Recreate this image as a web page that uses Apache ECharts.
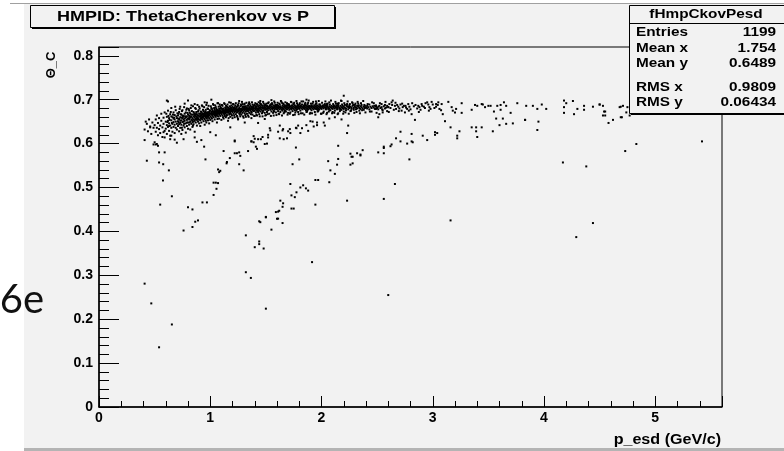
<!DOCTYPE html>
<html><head><meta charset="utf-8">
<script src="https://cdn.jsdelivr.net/npm/echarts/dist/echarts.min.js"></script>
<style>html,body{margin:0;padding:0;background:#fff}#c{width:784px;height:451px}</style>
</head><body><div id="c"></div>
<script>
// ---- data (p in GeV/c, theta_C in rad) ----
const xTickValues = [0, 1, 2, 3, 4, 5];
const yTickValues = [0, 0.1, 0.2, 0.3, 0.4, 0.5, 0.6, 0.7, 0.8];
const titleText = 'HMPID: ThetaCherenkov vs P';
const statsName = 'fHmpCkovPesd';
const statsLabels = ['Entries', 'Mean x', 'Mean y', 'RMS x', 'RMS y'];
const statsValues = ['1199', '1.754', '0.6489', '0.9809', '0.06434'];

const pionBand = [
[0.41,.632],[0.43,.645],[0.44,.628],[0.45,.655],[0.46,.639],[0.47,.622],[0.48,.648],[0.49,.636],
[0.50,.642],[0.51,.627],[0.51,.655],[0.52,.636],[0.52,.664],[0.53,.619],[0.53,.647],[0.54,.633],[0.54,.658],[0.55,.641],[0.55,.624],[0.56,.652],[0.56,.668],[0.57,.637],[0.57,.615],[0.58,.645],[0.58,.659],[0.59,.629],[0.59,.671],[0.60,.650],
[0.60,.634],[0.61,.642],[0.61,.661],[0.61,.622],[0.62,.652],[0.62,.638],[0.62,.675],[0.63,.646],[0.63,.629],[0.63,.658],[0.64,.641],[0.64,.667],[0.64,.618],[0.65,.653],[0.65,.636],[0.65,.681],[0.66,.645],[0.66,.660],[0.66,.627],[0.67,.649],[0.67,.671],[0.67,.638],[0.68,.655],[0.68,.643],[0.68,.665],[0.68,.624],[0.69,.650],[0.69,.636],[0.69,.676],[0.70,.658],[0.70,.645],[0.70,.632],[0.65,.662],[0.63,.640],[0.67,.657],
[0.71,.651],[0.71,.664],[0.71,.640],[0.72,.656],[0.72,.628],[0.72,.672],[0.73,.647],[0.73,.660],[0.73,.636],[0.73,.684],[0.74,.653],[0.74,.666],[0.74,.643],[0.75,.658],[0.75,.649],[0.75,.631],[0.75,.676],[0.76,.655],[0.76,.663],[0.76,.641],[0.77,.652],[0.77,.668],[0.77,.637],[0.77,.691],[0.78,.659],[0.78,.646],[0.78,.671],[0.78,.625],[0.79,.654],[0.79,.662],[0.79,.640],[0.79,.680],[0.80,.657],[0.80,.648],[0.80,.666],[0.80,.634],[0.72,.644],[0.74,.659],[0.76,.650],[0.78,.661],[0.71,.657],[0.73,.652],[0.75,.664],[0.77,.657],[0.79,.648],
[0.81,.655],[0.81,.663],[0.81,.643],[0.81,.676],[0.82,.659],[0.82,.650],[0.82,.668],[0.82,.632],[0.83,.661],[0.83,.654],[0.83,.645],[0.83,.687],[0.84,.658],[0.84,.666],[0.84,.649],[0.84,.638],[0.85,.662],[0.85,.655],[0.85,.672],[0.85,.644],[0.86,.660],[0.86,.652],[0.86,.669],[0.86,.627],[0.87,.663],[0.87,.657],[0.87,.648],[0.87,.679],[0.88,.661],[0.88,.654],[0.88,.667],[0.88,.641],[0.89,.664],[0.89,.658],[0.89,.650],[0.89,.673],[0.90,.662],[0.90,.655],[0.90,.646],[0.90,.684],[0.81,.658],[0.83,.666],[0.85,.650],[0.87,.667],[0.89,.655],[0.82,.662],[0.84,.653],[0.86,.664],[0.88,.658],[0.90,.668],
[0.91,.661],[0.91,.668],[0.91,.653],[0.91,.640],[0.92,.664],[0.92,.657],[0.92,.672],[0.92,.648],[0.93,.662],[0.93,.669],[0.93,.655],[0.93,.685],[0.94,.665],[0.94,.659],[0.94,.651],[0.94,.674],[0.95,.663],[0.95,.670],[0.95,.656],[0.95,.643],[0.96,.666],[0.96,.660],[0.96,.677],[0.96,.652],[0.97,.664],[0.97,.671],[0.97,.657],[0.97,.693],[0.98,.667],[0.98,.661],[0.98,.653],[0.98,.679],[0.99,.665],[0.99,.672],[0.99,.658],[0.99,.646],[1.00,.668],[1.00,.662],[1.00,.675],[1.00,.654],[0.91,.664],[0.92,.660],[0.93,.666],[0.94,.662],[0.95,.667],[0.96,.663],[0.97,.668],[0.98,.664],[0.99,.669],[0.92,.667],[0.94,.668],[0.96,.670],[0.98,.671],[0.93,.659],[0.97,.661],
[1.01,.666],[1.01,.672],[1.01,.659],[1.01,.681],[1.02,.669],[1.02,.663],[1.02,.676],[1.02,.651],[1.03,.667],[1.03,.673],[1.03,.660],[1.03,.688],[1.04,.670],[1.04,.664],[1.04,.678],[1.04,.655],[1.05,.668],[1.05,.674],[1.05,.661],[1.05,.683],[1.06,.671],[1.06,.665],[1.06,.677],[1.06,.648],[1.07,.669],[1.07,.675],[1.07,.662],[1.07,.692],[1.08,.672],[1.08,.666],[1.08,.679],[1.08,.657],[1.09,.670],[1.09,.676],[1.09,.663],[1.09,.685],[1.10,.673],[1.10,.667],[1.10,.680],[1.10,.654],[1.01,.669],[1.02,.666],[1.03,.670],[1.04,.667],[1.05,.671],[1.06,.668],[1.07,.672],[1.08,.669],[1.09,.673],[1.10,.670],[1.02,.673],[1.04,.674],[1.06,.674],[1.08,.675],[1.05,.665],
[1.11,.671],[1.11,.677],[1.11,.664],[1.11,.686],[1.12,.673],[1.12,.668],[1.12,.680],[1.12,.657],[1.13,.670],[1.13,.676],[1.13,.663],[1.13,.690],[1.14,.674],[1.14,.669],[1.14,.681],[1.14,.660],[1.15,.672],[1.15,.678],[1.15,.665],[1.15,.684],[1.16,.675],[1.16,.670],[1.16,.682],[1.16,.652],[1.17,.673],[1.17,.679],[1.17,.666],[1.17,.694],[1.18,.676],[1.18,.671],[1.18,.683],[1.18,.661],[1.19,.674],[1.19,.680],[1.19,.667],[1.19,.687],[1.20,.677],[1.20,.672],[1.20,.684],[1.20,.658],[1.11,.674],[1.12,.671],[1.13,.673],[1.14,.677],[1.15,.675],[1.16,.673],[1.17,.676],[1.18,.674],[1.19,.677],[1.20,.675],[1.12,.676],[1.14,.672],[1.16,.678],[1.18,.679],[1.13,.667],
[1.21,.675],[1.21,.680],[1.21,.668],[1.21,.689],[1.22,.677],[1.22,.672],[1.22,.683],[1.22,.660],[1.23,.674],[1.23,.679],[1.23,.667],[1.23,.692],[1.24,.676],[1.24,.671],[1.24,.684],[1.24,.663],[1.25,.678],[1.25,.673],[1.25,.686],[1.25,.655],[1.26,.675],[1.26,.681],[1.26,.669],[1.26,.697],[1.27,.677],[1.27,.672],[1.27,.685],[1.27,.662],[1.28,.679],[1.28,.674],[1.28,.687],[1.28,.666],[1.29,.676],[1.29,.682],[1.29,.670],[1.29,.690],[1.30,.678],[1.30,.673],[1.30,.684],[1.30,.659],[1.21,.677],[1.23,.677],[1.25,.676],[1.27,.679],[1.29,.678],[1.22,.679],[1.24,.678],[1.26,.678],[1.28,.677],[1.30,.680],
[1.31,.676],[1.31,.682],[1.31,.669],[1.31,.691],[1.32,.678],[1.32,.673],[1.32,.685],[1.32,.661],[1.33,.677],[1.33,.681],[1.33,.668],[1.34,.679],[1.34,.674],[1.34,.687],[1.34,.664],[1.35,.677],[1.35,.683],[1.35,.670],[1.35,.694],[1.36,.680],[1.36,.675],[1.36,.686],[1.37,.678],[1.37,.672],[1.37,.684],[1.37,.658],[1.38,.681],[1.38,.676],[1.38,.689],[1.38,.666],[1.39,.679],[1.39,.674],[1.39,.685],[1.40,.680],[1.40,.675],[1.40,.688],[1.40,.663],[1.31,.679],[1.33,.675],[1.35,.680],[1.37,.681],[1.39,.682],[1.32,.680],[1.36,.678],[1.38,.679],
[1.41,.678],[1.41,.684],[1.41,.671],[1.42,.680],[1.42,.675],[1.42,.690],[1.42,.664],[1.43,.679],[1.43,.684],[1.43,.672],[1.44,.681],[1.44,.676],[1.44,.687],[1.44,.667],[1.45,.679],[1.45,.685],[1.45,.673],[1.45,.697],[1.46,.682],[1.46,.677],[1.46,.688],[1.47,.680],[1.47,.674],[1.47,.686],[1.47,.662],[1.48,.681],[1.48,.676],[1.48,.691],[1.49,.679],[1.49,.684],[1.49,.670],[1.50,.682],[1.50,.677],[1.50,.687],[1.50,.665],[1.41,.681],[1.43,.677],[1.45,.682],[1.47,.683],[1.49,.681],
[1.51,.679],[1.51,.685],[1.51,.672],[1.52,.681],[1.52,.676],[1.52,.692],[1.53,.680],[1.53,.684],[1.53,.668],[1.54,.682],[1.54,.677],[1.54,.688],[1.55,.680],[1.55,.685],[1.55,.673],[1.55,.699],[1.56,.683],[1.56,.678],[1.56,.689],[1.57,.681],[1.57,.675],[1.57,.686],[1.57,.664],[1.58,.682],[1.58,.678],[1.58,.693],[1.59,.680],[1.59,.685],[1.59,.671],[1.60,.683],[1.60,.678],[1.60,.688],[1.52,.683],[1.56,.681],[1.58,.685],
[1.61,.681],[1.61,.686],[1.61,.674],[1.62,.683],[1.62,.678],[1.62,.691],[1.62,.667],[1.63,.680],[1.63,.685],[1.63,.672],[1.64,.682],[1.64,.677],[1.64,.695],[1.65,.681],[1.65,.686],[1.65,.675],[1.66,.684],[1.66,.679],[1.66,.689],[1.66,.669],[1.67,.682],[1.67,.676],[1.67,.687],[1.68,.680],[1.68,.685],[1.68,.673],[1.69,.683],[1.69,.678],[1.69,.692],[1.70,.681],[1.70,.686],[1.70,.670],[1.63,.683],[1.65,.679],[1.67,.684],
[1.71,.682],[1.71,.677],[1.71,.688],[1.72,.680],[1.72,.685],[1.72,.671],[1.73,.683],[1.73,.678],[1.73,.694],[1.74,.681],[1.74,.686],[1.74,.674],[1.75,.684],[1.75,.679],[1.75,.690],[1.76,.682],[1.76,.676],[1.76,.687],[1.76,.666],[1.77,.680],[1.77,.685],[1.78,.683],[1.78,.678],[1.78,.692],[1.79,.681],[1.79,.686],[1.79,.672],[1.80,.684],[1.80,.679],[1.80,.689],[1.73,.680],[1.77,.683],
[1.81,.682],[1.81,.687],[1.81,.675],[1.82,.680],[1.82,.685],[1.82,.696],[1.83,.683],[1.83,.678],[1.83,.669],[1.84,.681],[1.84,.686],[1.85,.684],[1.85,.679],[1.85,.690],[1.86,.682],[1.86,.676],[1.86,.687],[1.87,.680],[1.87,.685],[1.87,.673],[1.88,.683],[1.88,.678],[1.88,.693],[1.89,.681],[1.89,.686],[1.90,.684],[1.90,.679],[1.90,.670],[1.84,.683],[1.88,.685],
[1.91,.682],[1.91,.687],[1.91,.676],[1.92,.680],[1.92,.685],[1.92,.691],[1.93,.683],[1.93,.678],[1.94,.681],[1.94,.686],[1.94,.672],[1.95,.684],[1.95,.679],[1.95,.696],[1.96,.682],[1.96,.687],[1.97,.680],[1.97,.685],[1.97,.674],[1.98,.683],[1.98,.678],[1.98,.689],[1.99,.681],[1.99,.686],[2.00,.684],[2.00,.679],[2.00,.668],[1.96,.678],
[2.01,.682],[2.01,.687],[2.02,.680],[2.02,.685],[2.02,.673],[2.03,.683],[2.03,.690],[2.04,.681],[2.04,.678],[2.05,.684],[2.05,.688],[2.05,.670],[2.06,.682],[2.06,.679],[2.07,.685],[2.07,.680],[2.07,.694],[2.08,.683],[2.08,.676],[2.09,.681],[2.09,.686],[2.10,.684],[2.10,.679],[2.10,.672],[2.04,.686],
[2.11,.682],[2.11,.687],[2.12,.680],[2.12,.685],[2.12,.675],[2.13,.683],[2.13,.691],[2.14,.681],[2.14,.678],[2.15,.684],[2.15,.688],[2.15,.669],[2.16,.682],[2.16,.679],[2.17,.686],[2.17,.680],[2.18,.683],[2.18,.677],[2.18,.697],[2.19,.681],[2.19,.686],[2.20,.684],[2.20,.679],[2.20,.673],[2.14,.686],
[2.21,.682],[2.21,.688],[2.22,.680],[2.22,.676],[2.23,.685],[2.23,.690],[2.24,.683],[2.24,.678],[2.25,.681],[2.25,.687],[2.26,.684],[2.26,.674],[2.27,.682],[2.27,.679],[2.28,.686],[2.28,.692],[2.29,.681],[2.29,.677],[2.30,.684],[2.30,.688],
[2.31,.682],[2.31,.678],[2.32,.686],[2.32,.680],[2.33,.684],[2.33,.691],[2.34,.681],[2.34,.675],[2.35,.685],[2.35,.679],[2.36,.683],[2.36,.688],[2.37,.680],[2.38,.684],[2.38,.677],[2.39,.686],[2.39,.681],[2.40,.683],
[2.41,.680],[2.41,.686],[2.42,.683],[2.43,.678],[2.43,.689],[2.44,.684],[2.45,.681],[2.45,.673],[2.46,.685],[2.47,.682],[2.47,.692],[2.48,.679],[2.49,.684],[2.49,.687],[2.50,.681],
[2.51,.684],[2.51,.678],[2.52,.686],[2.53,.681],[2.54,.690],[2.54,.683],[2.55,.676],[2.56,.685],[2.57,.680],[2.57,.688],[2.58,.682],[2.59,.686],[2.59,.674],[2.60,.683],
[2.62,.681],[2.65,.677],[2.68,.688],[2.70,.680],[2.74,.686],[2.76,.682],[2.78,.690],[2.80,.678],[2.83,.685],[2.86,.680],[2.89,.677],[2.92,.684],[2.93,.681]
];

const pionBandEdge = [
[0.605,.668],[0.615,.649],[0.625,.663],[0.635,.654],[0.645,.672],[0.655,.647],[0.665,.666],[0.675,.659],[0.685,.684],[0.695,.662],[0.705,.669],[0.715,.648],[0.725,.679],[0.735,.667],[0.745,.674],[0.755,.661],[0.765,.683],[0.775,.662],[0.785,.677],[0.795,.670],[0.805,.679],[0.815,.671],[0.825,.681],[0.835,.674],[0.845,.685],[0.855,.667],[0.865,.681],[0.875,.672],[0.885,.688],[0.895,.676],[0.905,.680],[0.915,.673],[0.925,.687],[0.935,.677],[0.945,.683],[0.955,.673],[0.965,.688],[0.975,.680],[0.985,.686],[0.995,.676],[1.005,.685],[1.015,.679],[1.025,.690],[1.035,.681],[1.045,.687],[1.055,.679],[1.065,.692],[1.075,.684],[1.085,.689],[1.095,.681],[0.715,.668],[0.765,.645],[0.815,.648],[0.865,.655],[0.915,.657],[0.965,.648],[1.015,.657],[1.065,.656],[0.745,.636],[0.845,.641],
[1.105,.688],[1.115,.660],[1.125,.692],[1.135,.682],[1.145,.663],[1.155,.689],[1.165,.658],[1.175,.685],[1.185,.693],[1.195,.664],[1.108,.679],[1.142,.686],[1.177,.668],[1.193,.681],
[1.205,.690],[1.215,.664],[1.225,.687],[1.235,.683],[1.245,.660],[1.255,.692],[1.265,.666],[1.275,.689],[1.285,.695],[1.295,.662],[1.212,.681],[1.248,.688],[1.271,.670],[1.292,.684],
[1.305,.689],[1.315,.665],[1.325,.693],[1.335,.686],[1.345,.661],[1.355,.690],[1.365,.667],[1.375,.694],[1.385,.684],[1.395,.663],[1.312,.684],[1.347,.691],[1.371,.671],[1.391,.687],
[1.405,.692],[1.415,.666],[1.425,.688],[1.435,.694],[1.445,.662],[1.455,.690],[1.465,.669],[1.475,.695],[1.485,.686],[1.495,.664],[1.411,.685],[1.448,.692],[1.472,.672],[1.493,.689],
[1.505,.691],[1.515,.667],[1.525,.694],[1.535,.686],[1.545,.663],[1.555,.692],[1.565,.670],[1.575,.696],[1.585,.688],[1.595,.665],[1.512,.686],[1.548,.690],[1.573,.673],[1.592,.684],
[1.605,.693],[1.615,.668],[1.625,.689],[1.635,.697],[1.645,.664],[1.655,.691],[1.665,.671],[1.675,.694],[1.685,.687],[1.695,.666],[1.613,.684],[1.647,.692],[1.672,.674],[1.694,.688],
[1.705,.690],[1.715,.668],[1.725,.695],[1.735,.687],[1.745,.665],[1.755,.693],[1.765,.671],[1.775,.697],[1.785,.688],[1.795,.667],[1.712,.685],[1.748,.691],[1.773,.675],[1.791,.683],
[1.805,.692],[1.815,.669],[1.825,.689],[1.835,.696],[1.845,.666],[1.855,.693],[1.865,.672],[1.875,.690],[1.885,.698],[1.895,.668],[1.813,.684],[1.848,.688],[1.872,.676],[1.894,.685],
[1.905,.691],[1.915,.669],[1.925,.695],[1.935,.687],[1.945,.666],[1.955,.692],[1.965,.673],[1.975,.697],[1.985,.689],[1.995,.668],[1.912,.684],[1.948,.690],[1.972,.676],[1.991,.683],
[2.005,.693],[2.015,.670],[2.025,.688],[2.035,.696],[2.045,.667],[2.055,.691],[2.065,.673],[2.075,.689],[2.085,.698],[2.095,.669],[2.012,.684],[2.048,.690],[2.072,.676],
[2.105,.690],[2.115,.670],[2.125,.695],[2.135,.687],[2.145,.667],[2.155,.692],[2.165,.674],[2.175,.698],[2.185,.689],[2.195,.668],[2.112,.685],[2.148,.691],[2.172,.677],
[2.205,.692],[2.215,.671],[2.225,.687],[2.235,.696],[2.245,.668],[2.255,.690],[2.265,.675],[2.275,.694],[2.285,.688],[2.295,.670],[2.248,.684],
[2.305,.691],[2.315,.672],[2.325,.695],[2.335,.687],[2.345,.669],[2.355,.692],[2.365,.676],[2.375,.697],[2.385,.688],[2.395,.671],
[2.415,.690],[2.435,.673],[2.455,.694],[2.475,.686],[2.495,.670],[2.525,.692],[2.545,.678],[2.575,.695],[2.605,.672],[2.635,.688],[2.665,.693],[2.695,.674],[2.725,.691],[2.755,.686],[2.785,.675],[2.815,.692],[2.845,.688],[2.875,.672],[2.905,.686],[2.935,.692],[2.965,.675],[3.015,.681],[3.045,.688],[3.075,.676]
];

const pionTail = [
[2.49,.679],[2.52,.667],[2.51,.660],[2.55,.671],[2.60,.683],[2.61,.690],[2.63,.694],[2.64,.698],[2.66,.686],[2.67,.679],[2.69,.684],[2.71,.689],[2.72,.675],[2.73,.683],[2.75,.671],[2.77,.679],[2.79,.684],[2.81,.667],[2.84,.654],[2.87,.686],[2.88,.683],[2.90,.690],[2.95,.694],[2.96,.689],[2.97,.683],[2.98,.679],[2.99,.695],[3.00,.689],[3.03,.690],[3.03,.684],[3.05,.694],[3.06,.679],[3.08,.690],[3.09,.667],[3.11,.651],[3.14,.695],[3.17,.683],[3.18,.675],[3.20,.671],[3.21,.679],[3.26,.692],[3.26,.670],[3.35,.677],[3.38,.688],[3.40,.686],[3.44,.690],[3.45,.689],[3.47,.683],[3.50,.686],[3.52,.686],[3.55,.673],[3.57,.657],[3.58,.686],[3.61,.677],[3.61,.688],[3.64,.694],[3.66,.686],[3.70,.670],[3.76,.692],[3.83,.654],[3.84,.686],[3.90,.686],[3.94,.679],[3.98,.689],[4.02,.679],[4.18,.698],[4.20,.692],[4.18,.683],[4.18,.670],[4.26,.697],[4.27,.667],[4.30,.679],[4.36,.686],[4.36,.677],[4.44,.684],[4.50,.689],[4.53,.686],[4.54,.673],[4.55,.664],[4.62,.654],[4.69,.684],[4.71,.686],[4.70,.660],[4.74,.671],[4.75,.683],
[4.53,.664],[4.55,.673],[4.58,.647],[4.69,.660],[4.68,.683],[4.77,.664],[4.50,.689],[4.85,.685],[4.98,.679],[5.12,.690],[5.27,.682],[5.35,.676]
];

const kaonBand = [
[0.76,.402],[0.84,.410],[0.865,.422],[0.89,.425],[0.80,.455],[0.84,.450],[0.93,.466],[0.97,.466],[1.03,.483],[1.056,.497],[1.03,.511],[1.05,.511],[1.07,.510],[1.07,.541],[1.09,.538],[1.08,.535],[1.15,.558],[1.147,.555],[1.176,.567],[1.26,.553],[1.30,.539],[1.12,.583],[1.22,.605],[1.22,.578],[1.24,.578],[1.26,.580],[1.27,.572],[1.34,.583],[1.37,.605],[1.39,.603],[1.41,.593],[1.43,.610],[1.40,.611],[1.42,.588],[1.47,.615],[1.52,.620],[1.51,.600],[1.54,.630],[1.65,.630],[1.66,.610],[1.69,.612],[1.70,.628],[1.72,.624],[1.77,.636],[1.79,.641],[1.81,.624],[1.625,.641],[1.655,.633],[1.61,.627],[1.715,.633],[1.775,.635],[1.825,.635],[1.864,.642],[1.88,.629],[1.93,.639],[1.96,.642],[2.03,.641],[2.12,.660],[2.18,.655],[2.24,.641],[1.535,.635],[1.43,.647],[1.49,.656],[1.31,.648],[1.25,.656],[1.18,.637],[1.39,.617],[1.37,.605],[1.455,.610],[1.52,.614],[1.49,.599],[1.625,.612],[1.22,.607],[1.96,.648],[1.92,.650],[1.90,.651],[2.02,.648],[2.07,.657],[2.23,.624],[0.945,.593],[0.957,.564],[0.92,.608]
];

const protonBand = [
[1.32,.307],[1.365,.294],[1.50,.224],[1.32,.391],[1.40,.364],[1.44,.377],[1.44,.371],[1.48,.361],[1.45,.421],[1.44,.423],[1.50,.432],[1.50,.433],[1.55,.404],[1.60,.429],[1.61,.445],[1.61,.429],[1.59,.444],[1.62,.447],[1.65,.419],[1.65,.456],[1.655,.464],[1.63,.470],[1.73,.452],[1.75,.452],[1.72,.508],[1.73,.482],[1.76,.478],[1.775,.489],[1.81,.500],[1.835,.505],[1.86,.498],[1.88,.493],[1.945,.517],[1.97,.517],[1.945,.461],[2.07,.512],[2.06,.560],[2.08,.539],[2.14,.552],[2.15,.565],[2.12,.531],[1.74,.553],[1.80,.564],[1.77,.591],[2.15,.595],[2.23,.470],
[2.26,.552],[2.28,.555],[2.26,.577],[2.27,.570],[2.28,.570],[2.32,.578],[2.35,.575],[2.35,.573],[2.37,.585],[2.51,.580],[2.56,.578],[2.56,.593],[2.56,.590],[2.62,.594],[2.63,.598],[2.67,.612],[2.71,.605],[2.71,.627],[2.77,.600],[2.81,.605],[2.81,.622],[2.82,.603],[2.79,.564],[2.66,.508],[2.56,.474],[2.91,.618],[2.95,.608],[3.02,.626],[3.04,.624],[3.02,.620],[3.16,.637],[3.22,.618],[3.22,.612],[3.24,.628],[3.35,.637],[3.39,.637],[3.39,.628],[3.40,.615],[3.44,.637],[3.54,.628],[3.60,.642],[3.66,.645],[3.72,.646],[3.63,.657],[3.83,.654],[3.94,.631],[3.95,.650]
];

const lowPoints = [
[0.41,.608],[0.43,.561],[0.42,.650],[0.55,.461],[0.655,.480],[0.575,.516],[0.628,.539],[0.54,.557],[0.577,.553],[0.59,.580],[0.54,.580],[0.49,.598],[0.51,.598],[0.50,.603],[0.53,.595],[0.41,.281],[0.47,.236],[0.655,.188],[0.54,.136],[0.58,.626],[0.59,.614],[0.64,.610],[0.65,.618],[0.68,.609],[0.74,.622],[0.76,.610],[1.00,.626],[0.52,.599],[0.46,.637],[0.70,.602],[0.86,.614],[0.88,.604],[1.05,.619],[1.915,.330],[2.60,.255],[3.16,.425],[4.29,.387],[4.44,.419],[4.17,.557],[4.38,.548],[4.73,.583],[4.83,.599],[5.42,.605],[2.20,.709],[1.865,.700],[1.01,.700],[0.61,.698],[0.62,.696],[0.80,.698],[0.86,.690],[0.95,.694]
];

// ---- chart ----
const FONT = '"Liberation Sans", Arial, Helvetica, sans-serif';
const BG = '#f2f2f2';
const chart = echarts.init(document.getElementById('c'), null, {renderer: 'canvas'});

function xLabel(v) {
  return xTickValues.some(t => Math.abs(t - v) < 1e-6) ? String(Math.round(v)) : '';
}
function yLabel(v) {
  const hit = yTickValues.find(t => Math.abs(t - v) < 1e-6);
  if (hit === undefined) return '';
  return hit === 0 ? '0' : hit.toFixed(1);
}

const pointSeries = (data) => ({
  type: 'scatter', data: data, xAxisIndex: 0, yAxisIndex: 0,
  symbol: 'rect', symbolSize: 2, silent: true,
  itemStyle: {color: '#000', opacity: 1}, z: 3
});

const statsEls = [];
const rowY = [32, 48, 63, 87, 102];
statsLabels.forEach((lab, i) => {
  statsEls.push({type: 'text', x: 636, y: rowY[i], z: 103, scaleX: 1.18,
    style: {text: lab, font: 'bold 13px ' + FONT, fill: '#000', align: 'left', verticalAlign: 'middle', textAlign: 'left', textVerticalAlign: 'middle'}});
  statsEls.push({type: 'text', x: 776, y: rowY[i], z: 103, scaleX: 1.18,
    style: {text: statsValues[i], font: 'bold 13px ' + FONT, fill: '#000', align: 'right', verticalAlign: 'middle', textAlign: 'right', textVerticalAlign: 'middle'}});
});

const option = {
  backgroundColor: '#fff',
  animation: false,
  grid: {left: 99, top: 47, width: 623, height: 360, show: true, borderColor: '#000', borderWidth: 1, backgroundColor: 'transparent', containLabel: false, outerBoundsMode: 'none'},
  xAxis: [
    {type: 'value', min: 0, max: 5.6, interval: 1, position: 'bottom',
     axisLine: {show: true, onZero: false, lineStyle: {color: '#000', width: 1.5}},
     axisTick: {show: true, inside: true, length: 11, lineStyle: {color: '#000', width: 1}},
     axisLabel: {show: true, formatter: xLabel, color: '#000', fontFamily: FONT, fontWeight: 'bold', fontSize: 14, margin: 4},
     splitLine: {show: false}},
    {type: 'value', min: 0, max: 5.6, interval: 0.2, position: 'bottom',
     axisLine: {show: false},
     axisTick: {show: true, inside: true, length: 6, lineStyle: {color: '#000', width: 1}},
     axisLabel: {show: false}, splitLine: {show: false}}
  ],
  yAxis: [
    {type: 'value', min: 0, max: 0.82, interval: 0.1, position: 'left',
     axisLine: {show: true, onZero: false, lineStyle: {color: '#000', width: 1.5}},
     axisTick: {show: true, inside: true, length: 20, lineStyle: {color: '#000', width: 1}},
     axisLabel: {show: true, formatter: yLabel, color: '#000', fontFamily: FONT, fontWeight: 'bold', fontSize: 14, margin: 6},
     splitLine: {show: false}},
    {type: 'value', min: 0, max: 0.82, interval: 0.02, position: 'left',
     axisLine: {show: false},
     axisTick: {show: true, inside: true, length: 10, lineStyle: {color: '#000', width: 1}},
     axisLabel: {show: false}, splitLine: {show: false}}
  ],
  series: [pointSeries(pionBand), pointSeries(pionBandEdge), pointSeries(pionTail), pointSeries(kaonBand), pointSeries(protonBand), pointSeries(lowPoints)],
  graphic: {elements: [
    {type: 'rect', z: -20, silent: true, shape: {x: 24, y: 3, width: 760, height: 445}, style: {fill: BG}},
    {type: 'line', z: -19, silent: true, shape: {x1: 10, y1: 3.5, x2: 784, y2: 3.5}, style: {stroke: '#a0a0a0', lineWidth: 1}},
    {type: 'rect', z: -19, silent: true, shape: {x: 24, y: 448, width: 760, height: 3}, style: {fill: '#b4b4b4'}},
    {type: 'text', z: 50, silent: true, x: 44, y: 300,
     style: {text: '6e', font: '40px Lato, "Open Sans", sans-serif', fill: '#111', align: 'right', verticalAlign: 'middle', textAlign: 'right', textVerticalAlign: 'middle'}},
    // title pave
    {type: 'rect', z: 100, silent: true, shape: {x: 32, y: 7, width: 304, height: 22}, style: {fill: '#000'}},
    {type: 'rect', z: 101, silent: true, shape: {x: 30.5, y: 5.5, width: 304, height: 22}, style: {fill: BG, stroke: '#000', lineWidth: 1}},
    {type: 'text', z: 102, silent: true, x: 183, y: 17, scaleX: 1.2,
     style: {text: titleText, font: 'bold 15px ' + FONT, fill: '#000', align: 'center', verticalAlign: 'middle', textAlign: 'center', textVerticalAlign: 'middle'}},
    // stats pave
    {type: 'rect', z: 100, silent: true, shape: {x: 631, y: 7, width: 160, height: 108}, style: {fill: '#000'}},
    {type: 'rect', z: 101, silent: true, shape: {x: 629.5, y: 5.5, width: 160, height: 108}, style: {fill: BG, stroke: '#000', lineWidth: 1}},
    {type: 'line', z: 102, silent: true, shape: {x1: 629.5, y1: 23.5, x2: 784, y2: 23.5}, style: {stroke: '#000', lineWidth: 1}},
    {type: 'text', z: 103, silent: true, x: 706, y: 14, scaleX: 1.18,
     style: {text: statsName, font: 'bold 13px ' + FONT, fill: '#000', align: 'center', verticalAlign: 'middle', textAlign: 'center', textVerticalAlign: 'middle'}},
    ...statsEls,
    // axis titles
    {type: 'text', z: 50, silent: true, x: 721, y: 440, scaleX: 1.15,
     style: {text: 'p_esd (GeV/c)', font: 'bold 14px ' + FONT, fill: '#000', align: 'right', verticalAlign: 'middle', textAlign: 'right', textVerticalAlign: 'middle'}},
    {type: 'text', z: 50, silent: true, x: 51, y: 65, rotation: Math.PI / 2,
     style: {text: 'Θ_C', font: 'bold 13px ' + FONT, fill: '#000', align: 'center', verticalAlign: 'middle', textAlign: 'center', textVerticalAlign: 'middle'}}
  ]}
};
chart.setOption(option);
</script>
</body></html>
